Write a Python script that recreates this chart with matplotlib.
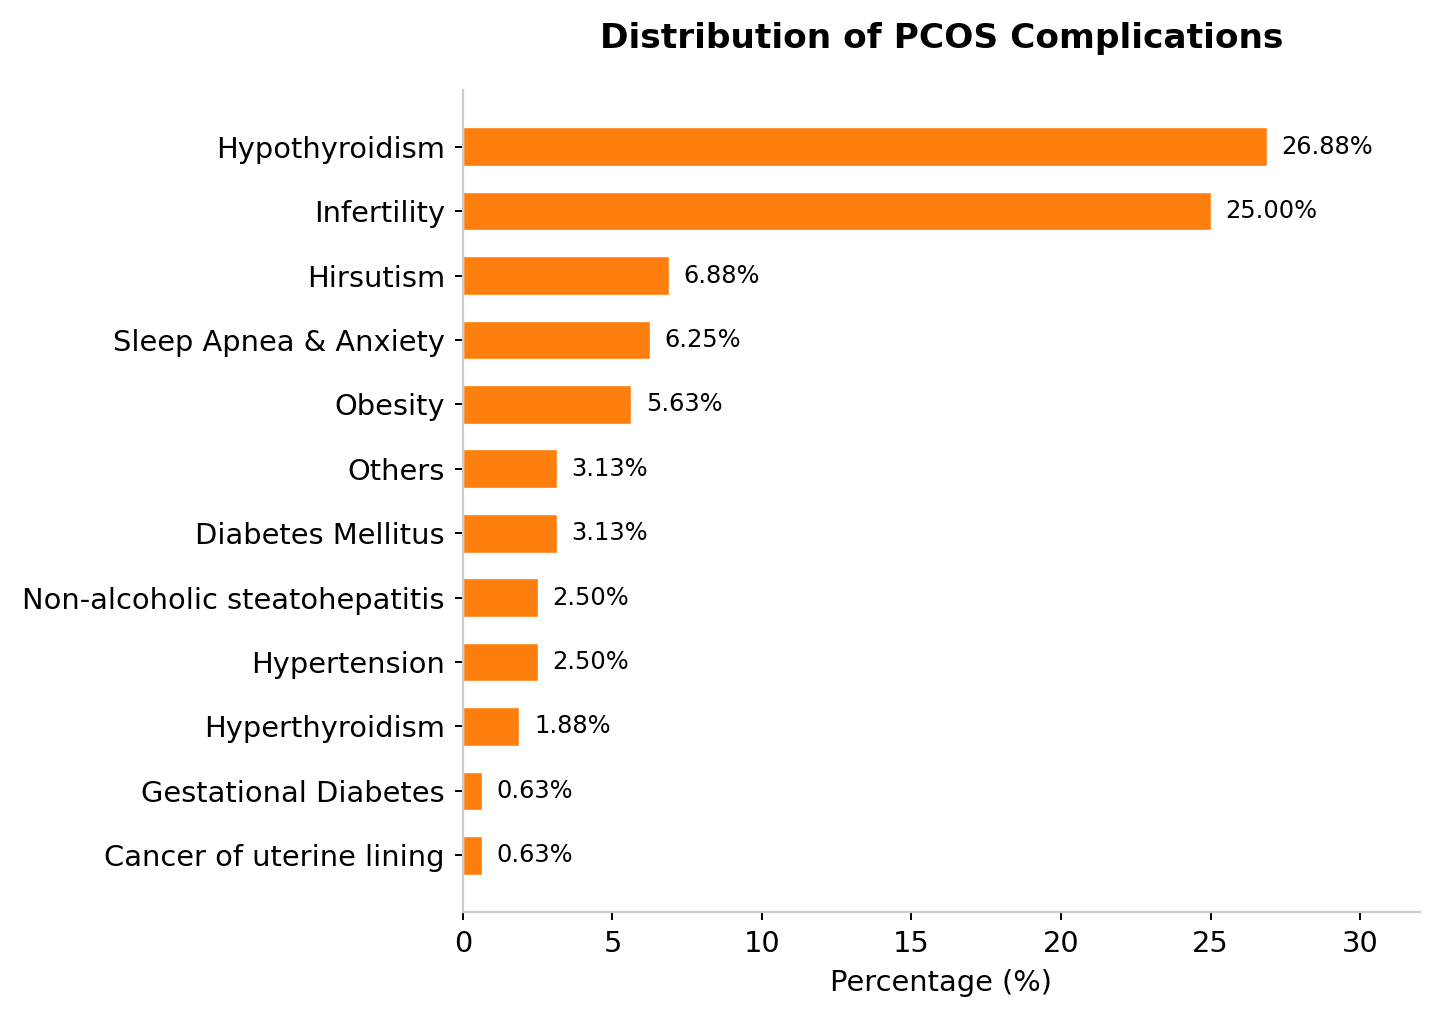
import matplotlib
matplotlib.use("Agg")
from matplotlib import pyplot as plt

# Complication categories and their share (%)
complications = [
    "Hypothyroidism",
    "Infertility",
    "Hirsutism",
    "Sleep Apnea & Anxiety",
    "Obesity",
    "Others",
    "Diabetes Mellitus",
    "Non-alcoholic steatohepatitis",
    "Hypertension",
    "Hyperthyroidism",
    "Gestational Diabetes",
    "Cancer of uterine lining",
]
percentages = [26.88, 25.00, 6.88, 6.25, 5.63, 3.13, 3.13, 2.50, 2.50, 1.88, 0.63, 0.63]

fig, ax = plt.subplots(figsize=(7.2, 5.115), dpi=200)
fig.subplots_adjust(left=0.3215, right=0.986, top=0.912, bottom=0.1085)

y_pos = list(range(len(complications)))
bars = ax.barh(y_pos, percentages, height=0.6, color="#ff7f0e", edgecolor="white", linewidth=0.5)
ax.set_yticks(y_pos)
ax.set_yticklabels(complications, fontsize=10.4)
ax.invert_yaxis()

# Value labels next to each bar
for bar, value in zip(bars, percentages):
    ax.text(value + 0.5, bar.get_y() + bar.get_height() / 2, f"{value:.2f}%",
            va="center", ha="left", fontsize=8.7)

ax.set_xlim(0, 32)
ax.set_xticks([0, 5, 10, 15, 20, 25, 30])
ax.tick_params(axis="x", labelsize=10.4)
ax.tick_params(length=3.0, width=0.7)
ax.set_xlabel("Percentage (%)", fontsize=10.4)
ax.set_title("Distribution of PCOS Complications", fontsize=12.4, fontweight="bold", pad=15)

ax.spines["top"].set_visible(False)
ax.spines["right"].set_visible(False)
ax.spines["left"].set_color("#cccccc")
ax.spines["bottom"].set_color("#cccccc")

plt.savefig("out.png", dpi=200)
